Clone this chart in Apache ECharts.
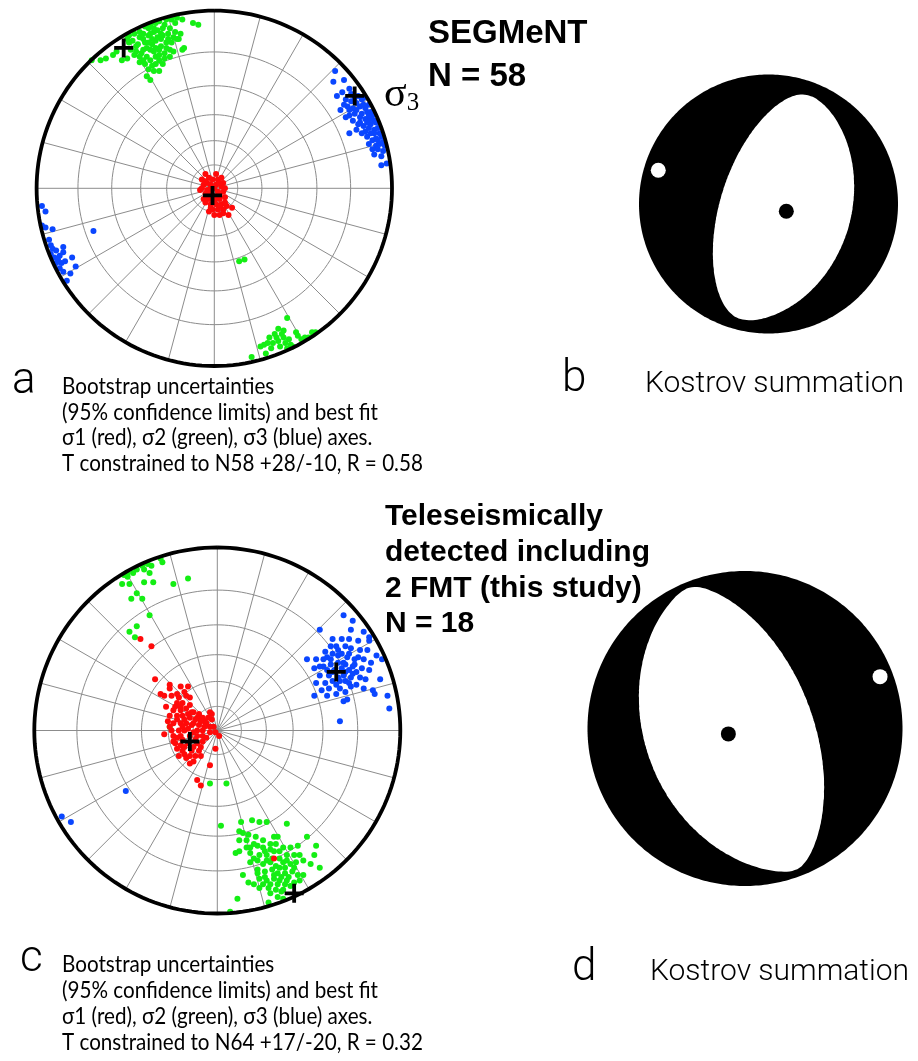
<!DOCTYPE html>
<html>
<head>
<meta charset="utf-8">
<script src="https://cdn.jsdelivr.net/npm/echarts@6/dist/echarts.min.js"></script>
<style>
  html, body { margin: 0; padding: 0; background: #fff; }
  #main { width: 918px; height: 1061px; }
</style>
</head>
<body>
<div id="main"></div>
<script>
(function(){
  'use strict';

  // stereonet grid: small circles every 15 deg, spokes every 15 deg (equal-angle net)
  var ringColat = [15, 30, 45, 60, 75];
  var spokeStep = 15;

  // panel a: bootstrap axes, net coordinates (unit = net radius, x east, y north)
  var aSigma1 = [[-0.05,0.08],[0.01,0.08],[-0.07,0.05],[-0.03,0.06],[-0.01,0.05],[0.02,0.05],[0.05,0.03],[-0.06,0.02],[-0.02,0.02],[0.01,0.02],[0.04,0.01],[-0.04,-0.01],[-0.02,0.00],[-0.05,-0.03],[-0.02,-0.03],[0.02,-0.02],[0.05,-0.02],[-0.06,-0.06],[-0.03,-0.06],[0.00,-0.07],[0.03,-0.06],[0.06,-0.05],[-0.05,-0.08],[-0.02,-0.09],[0.01,-0.09],[0.04,-0.09],[0.07,-0.10],[0.10,-0.11],[-0.01,-0.12],[0.02,-0.12],[0.00,-0.15],[0.03,-0.15],[0.08,-0.15],[-0.02,-0.11],[0.05,-0.12],[-0.08,-0.01],[0.06,-0.08],[-0.04,0.03],[0.03,0.03],[0.00,0.00],[0.03,-0.04],[-0.01,-0.04],[-0.04,-0.05],[0.01,-0.05],[-0.07,0.00],[0.06,0.00],[0.04,0.06],[-0.03,-0.13],[0.03,-0.10],[0.05,-0.14],[-0.05,0.04]];
  var aSigma2 = [[-0.69,0.72],[-0.64,0.72],[-0.61,0.73],[-0.57,0.75],[-0.55,0.77],[-0.52,0.72],[-0.49,0.73],[-0.48,0.86],[-0.45,0.87],[-0.42,0.85],[-0.39,0.91],[-0.36,0.92],[-0.33,0.93],[-0.31,0.94],[-0.27,0.95],[-0.24,0.95],[-0.21,0.96],[-0.18,0.95],[-0.22,0.93],[-0.12,0.93],[-0.09,0.92],[-0.46,0.83],[-0.43,0.81],[-0.40,0.84],[-0.37,0.86],[-0.34,0.88],[-0.32,0.89],[-0.29,0.90],[-0.26,0.87],[-0.23,0.85],[-0.20,0.84],[-0.18,0.78],[-0.17,0.79],[-0.44,0.77],[-0.41,0.76],[-0.38,0.79],[-0.35,0.81],[-0.33,0.83],[-0.30,0.84],[-0.27,0.82],[-0.24,0.82],[-0.21,0.84],[-0.42,0.71],[-0.39,0.70],[-0.36,0.72],[-0.33,0.74],[-0.31,0.75],[-0.28,0.76],[-0.25,0.74],[-0.37,0.67],[-0.34,0.66],[-0.31,0.66],[-0.36,0.61],[-0.48,0.82],[-0.49,0.84],[-0.38,0.74],[-0.33,0.70],[-0.29,0.70],[-0.27,0.79],[-0.30,0.80],[-0.34,0.77],[-0.40,0.87],[-0.37,0.90],[-0.44,0.80],[-0.32,0.85],[-0.35,0.84],[-0.25,0.78],[-0.23,0.77],
    [-0.36,0.78],[-0.31,0.78],[-0.28,0.73],[-0.40,0.78],[-0.42,0.74],[-0.45,0.75],[-0.47,0.78],[-0.39,0.82],[-0.36,0.87],[-0.30,0.87],[-0.28,0.92],[-0.34,0.90],[-0.42,0.88],[-0.25,0.90],[-0.22,0.88],[-0.19,0.87],[-0.26,0.84],[-0.29,0.86],[-0.37,0.82],[-0.33,0.79],[-0.40,0.72],[-0.35,0.69],[-0.31,0.72],[-0.38,0.63],
    [0.41,-0.73],[0.36,-0.79],[0.39,-0.80],[0.34,-0.82],[0.38,-0.82],[0.31,-0.84],[0.35,-0.84],[0.39,-0.84],[0.42,-0.85],[0.46,-0.81],[0.47,-0.83],[0.33,-0.87],[0.36,-0.86],[0.40,-0.87],[0.43,-0.88],[0.28,-0.88],[0.30,-0.87],[0.29,-0.93],[0.26,-0.89],[0.21,-0.95],[0.51,-0.84],[0.55,-0.81],[0.57,-0.81],[0.53,-0.84],[0.44,-0.89],[0.37,-0.89],[0.41,-0.90],[0.32,-0.90],[0.49,-0.85],
    [0.14,-0.41],[0.17,-0.40]];
  var aSigma3 = [[0.68,0.66],[0.73,0.61],[0.67,0.60],[0.72,0.54],[0.69,0.52],[0.76,0.56],[0.74,0.50],[0.71,0.44],[0.75,0.46],[0.77,0.49],[0.80,0.48],[0.83,0.50],[0.84,0.51],[0.87,0.47],[0.82,0.46],[0.85,0.45],[0.88,0.43],[0.89,0.41],[0.90,0.38],[0.76,0.41],[0.79,0.42],[0.82,0.40],[0.85,0.39],[0.88,0.39],[0.91,0.37],[0.78,0.38],[0.81,0.36],[0.84,0.35],[0.87,0.34],[0.90,0.33],[0.92,0.34],[0.76,0.31],[0.83,0.31],[0.86,0.29],[0.89,0.27],[0.91,0.28],[0.94,0.29],[0.87,0.25],[0.91,0.24],[0.96,0.24],[0.90,0.19],[0.94,0.18],[0.94,0.13],[0.97,0.14],[0.74,0.40],[0.87,0.41],[0.80,0.33],[0.93,0.31],[0.90,0.31],[0.92,0.22],[0.95,0.21],
    [0.86,0.43],[0.83,0.42],[0.80,0.44],[0.84,0.47],[0.78,0.45],[0.88,0.36],[0.86,0.37],[0.82,0.37],[0.85,0.32],[0.88,0.31],[0.89,0.22],[0.93,0.25],[0.81,0.52],[0.79,0.51],[0.77,0.53],[0.73,0.47],[0.76,0.44],[0.92,0.27],[0.95,0.26],
    [-0.97,-0.10],[-0.95,-0.13],[-0.97,-0.21],[-0.95,-0.22],[-0.91,-0.23],[-0.93,-0.29],[-0.92,-0.32],[-0.91,-0.34],[-0.89,-0.35],[-0.92,-0.37],[-0.90,-0.39],[-0.87,-0.38],[-0.85,-0.33],[-0.85,-0.36],[-0.88,-0.40],[-0.86,-0.42],[-0.84,-0.41],[-0.80,-0.39],[-0.78,-0.44],[-0.87,-0.45],[-0.85,-0.47],[-0.83,-0.52],[-0.81,-0.48],[-0.89,-0.42],[-0.68,-0.24]];
  var aBest = [[-0.01,-0.04],[-0.51,0.79],[0.79,0.52]];

  // panel c
  var cSigma1 = [[-0.34,0.28],[-0.26,0.25],[-0.26,0.23],[-0.20,0.24],[-0.16,0.24],[-0.31,0.20],[-0.29,0.19],[-0.25,0.19],[-0.21,0.18],[-0.17,0.19],[-0.15,0.18],[-0.22,0.15],[-0.19,0.15],[-0.15,0.14],[-0.28,0.13],[-0.24,0.11],[-0.20,0.11],[-0.17,0.12],[-0.13,0.10],[-0.10,0.09],[-0.04,0.10],[-0.03,0.09],[-0.26,0.08],[-0.22,0.08],[-0.19,0.08],[-0.15,0.07],[-0.11,0.07],[-0.08,0.07],[-0.03,0.06],[-0.24,0.04],[-0.20,0.04],[-0.17,0.04],[-0.13,0.04],[-0.10,0.03],[-0.06,0.04],[-0.02,0.02],[-0.25,0.00],[-0.21,0.00],[-0.18,0.00],[-0.11,0.00],[-0.08,0.00],[-0.04,-0.01],[-0.01,-0.01],[-0.29,-0.02],[-0.24,-0.03],[-0.20,-0.03],[-0.11,-0.03],[-0.08,-0.03],[0.01,-0.03],[-0.23,-0.07],[-0.20,-0.08],[-0.11,-0.07],[-0.08,-0.06],[-0.22,-0.10],[-0.19,-0.11],[-0.14,-0.11],[-0.10,-0.11],[-0.21,-0.14],[-0.17,-0.15],[-0.12,-0.14],[-0.09,-0.14],[-0.15,-0.18],[-0.13,-0.17],[-0.01,-0.10],[-0.04,-0.19],[-0.11,-0.27],[-0.09,-0.30],[-0.42,0.50],[-0.36,0.46],[-0.22,-0.04],[-0.18,-0.09],[-0.26,0.02],[-0.14,0.03],[-0.06,-0.04],[-0.04,0.02],[0.31,-0.70],[-0.15,-0.03],[-0.16,-0.07],[-0.13,-0.09],[-0.18,0.06],[-0.14,0.10],[-0.23,0.13],[-0.07,0.05],
    [-0.19,0.02],[-0.16,0.01],[-0.13,-0.01],[-0.22,0.06],[-0.16,0.09],[-0.20,0.13],[-0.18,-0.13],[-0.15,-0.14],[-0.12,0.06],[-0.09,0.05],[-0.07,0.02],[-0.24,-0.06],[-0.19,-0.05],[-0.27,0.05],[-0.22,0.20],[-0.18,0.21],[-0.12,-0.05],[-0.05,0.07],[-0.09,-0.09]];
  var cSigma2 = [[-0.49,0.86],[-0.51,0.85],[-0.49,0.84],[-0.46,0.86],[-0.44,0.88],[-0.41,0.90],[-0.38,0.91],[-0.40,0.88],[-0.36,0.90],[-0.37,0.86],[-0.35,0.81],[-0.40,0.81],[-0.31,0.94],[-0.30,0.92],[-0.48,0.80],[-0.44,0.75],[-0.41,0.72],[-0.47,0.72],[-0.37,0.63],[-0.48,0.54],[-0.44,0.57],[-0.45,0.51],[-0.24,0.80],[-0.16,0.83],[-0.52,0.80],
    [-0.04,-0.29],[0.05,-0.29],[-0.26,0.02],
    [0.02,-0.52],[0.13,-0.50],[0.19,-0.49],[0.23,-0.50],[0.27,-0.50],[0.38,-0.51],[0.12,-0.55],[0.14,-0.56],[0.17,-0.57],[0.21,-0.58],[0.25,-0.60],[0.31,-0.58],[0.33,-0.58],[0.12,-0.60],[0.16,-0.60],[0.18,-0.64],[0.22,-0.63],[0.25,-0.64],[0.29,-0.62],[0.32,-0.62],[0.36,-0.64],[0.40,-0.64],[0.44,-0.63],[0.49,-0.58],[0.54,-0.63],[0.10,-0.67],[0.12,-0.66],[0.18,-0.67],[0.23,-0.68],[0.27,-0.68],[0.31,-0.66],[0.34,-0.66],[0.38,-0.68],[0.42,-0.68],[0.45,-0.68],[0.53,-0.68],[0.18,-0.72],[0.22,-0.71],[0.25,-0.73],[0.29,-0.72],[0.32,-0.74],[0.36,-0.72],[0.40,-0.73],[0.43,-0.72],[0.51,-0.73],[0.56,-0.75],[0.22,-0.76],[0.26,-0.77],[0.30,-0.76],[0.33,-0.78],[0.37,-0.78],[0.41,-0.77],[0.44,-0.79],[0.47,-0.79],[0.17,-0.83],[0.23,-0.81],[0.27,-0.82],[0.31,-0.81],[0.34,-0.82],[0.38,-0.82],[0.42,-0.83],[0.45,-0.82],[0.23,-0.86],[0.28,-0.86],[0.32,-0.87],[0.36,-0.87],[0.40,-0.85],[0.29,-0.89],[0.33,-0.91],[0.36,-0.92],[0.11,-0.92],[0.28,-0.94],[0.07,-0.99],[0.14,-0.79],[0.20,-0.84],
    [0.26,-0.66],[0.29,-0.65],[0.34,-0.70],[0.30,-0.70],[0.27,-0.71],[0.34,-0.75],[0.37,-0.75],[0.38,-0.71],[0.31,-0.79],[0.35,-0.80],[0.39,-0.80],[0.26,-0.80],[0.29,-0.84],[0.33,-0.84],[0.37,-0.84],[0.25,-0.84],[0.20,-0.70],[0.20,-0.62],[0.16,-0.64],[0.42,-0.75],[0.47,-0.71],[0.22,-0.78],[0.35,-0.88]];
  var cSigma3 = [[0.69,0.63],[0.74,0.60],[0.56,0.55],[0.73,0.55],[0.80,0.54],[0.83,0.51],[0.63,0.50],[0.68,0.50],[0.72,0.50],[0.77,0.49],[0.83,0.49],[0.62,0.46],[0.65,0.46],[0.70,0.46],[0.73,0.45],[0.78,0.44],[0.82,0.44],[0.87,0.41],[0.90,0.39],[0.84,0.37],[0.49,0.39],[0.54,0.39],[0.59,0.43],[0.63,0.42],[0.66,0.41],[0.71,0.40],[0.75,0.39],[0.80,0.39],[0.53,0.34],[0.58,0.35],[0.62,0.36],[0.70,0.36],[0.74,0.35],[0.79,0.34],[0.83,0.33],[0.56,0.30],[0.61,0.30],[0.69,0.30],[0.73,0.29],[0.78,0.29],[0.89,0.28],[0.54,0.26],[0.59,0.26],[0.63,0.27],[0.67,0.27],[0.72,0.26],[0.76,0.25],[0.80,0.23],[0.85,0.22],[0.53,0.19],[0.60,0.19],[0.65,0.20],[0.70,0.21],[0.69,0.16],[0.71,0.17],[0.86,0.20],[0.93,0.19],[0.94,0.12],[0.67,0.05],[0.64,0.33],[0.66,0.29],[0.63,0.32],[0.69,0.37],[0.73,0.24],[0.57,0.22],[0.58,0.39],
    [0.62,0.39],[0.66,0.37],[0.68,0.34],[0.72,0.33],[0.76,0.32],[0.60,0.33],[0.65,0.25],[0.70,0.27],[0.75,0.36],[0.68,0.42],[0.72,0.42],[0.77,0.40],[0.61,0.23],[0.67,0.23],[0.56,0.35],[0.60,0.40],[0.81,0.28],[0.66,0.44],[0.74,0.31],[0.70,0.32],
    [-0.50,-0.33],[-0.85,-0.47],[-0.80,-0.50]];
  var cBest = [[-0.15,-0.06],[0.42,-0.89],[0.65,0.32]];

  // Kostrov summed tensors: [trend, plunge] of T and P, eigenvalues [T, B, P]
  var bTAxis = [287, 12], bPAxis = [112, 78], bEigen = [1, 0.031, -0.81];
  var dTAxis = [69, 9],   dPAxis = [252, 81], dEigen = [1, 0.0073, -0.953];

  var captionA = ['Bootstrap uncertainties', '(95% confidence limits) and best fit',
                  '\u03c31 (red), \u03c32 (green), \u03c33 (blue) axes.', 'T constrained to N58 +28/-10, R = 0.58'];
  var captionC = ['Bootstrap uncertainties', '(95% confidence limits) and best fit',
                  '\u03c31 (red), \u03c32 (green), \u03c33 (blue) axes.', 'T constrained to N64 +17/-20, R = 0.32'];

  var D = Math.PI / 180;

  function stereo(colat, az){
    var r = Math.tan(colat * D / 2);
    return [r * Math.sin(az * D), r * Math.cos(az * D)];
  }

  function netGrid(){
    var out = [], az, k;
    ringColat.forEach(function(c){
      var pts = [];
      for (az = 0; az <= 360; az += 2) pts.push(stereo(c, az));
      out.push({coords: pts});
    });
    for (k = 0; k < 360; k += spokeStep) out.push({coords: [[0, 0], stereo(90, k)]});
    return out;
  }
  function primitive(){
    var pts = [];
    for (var az = 0; az <= 360; az += 2) pts.push(stereo(90, az));
    return [{coords: pts}];
  }

  // vectors: x east, y north, z down
  function vec(tp){
    var t = tp[0] * D, p = tp[1] * D;
    return [Math.sin(t) * Math.cos(p), Math.cos(t) * Math.cos(p), Math.sin(p)];
  }
  function dot(a, b){ return a[0]*b[0] + a[1]*b[1] + a[2]*b[2]; }
  function cross(a, b){ return [a[1]*b[2]-a[2]*b[1], a[2]*b[0]-a[0]*b[2], a[0]*b[1]-a[1]*b[0]]; }
  function norm(a){ var l = Math.sqrt(dot(a, a)); return [a[0]/l, a[1]/l, a[2]/l]; }
  // lower hemisphere, equal area
  function proj(n){
    if (n[2] < 0) n = [-n[0], -n[1], -n[2]];
    var th = Math.acos(Math.min(1, n[2])), r = Math.SQRT2 * Math.sin(th / 2);
    var h = Math.sqrt(n[0]*n[0] + n[1]*n[1]);
    return h < 1e-9 ? [0, 0] : [r * n[0] / h, r * n[1] / h];
  }
  function unproj(x, y){
    var r = Math.sqrt(x*x + y*y);
    if (r < 1e-9) return [0, 0, 1];
    var th = 2 * Math.asin(Math.min(1, r / Math.SQRT2)), s = Math.sin(th);
    return [s * x / r, s * y / r, Math.cos(th)];
  }

  function beachball(tAxis, pAxis, eig){
    var t = vec(tAxis), b = norm(cross(t, vec(pAxis))), p = norm(cross(b, t));
    function amp(n){ var a = dot(n, t), bb = dot(n, b), c = dot(n, p); return eig[0]*a*a + eig[1]*bb*bb + eig[2]*c*c; }
    var c0 = proj(p), white = [], disc = [], k, s;
    for (k = 0; k < 360; k++){
      var ca = Math.cos(k * D), sa = Math.sin(k * D);
      for (s = 0; s < 2.2; s += 0.002){
        var qx = c0[0] + s * ca, qy = c0[1] + s * sa, r = Math.sqrt(qx*qx + qy*qy);
        if (r >= 1){ white.push([qx / r, qy / r]); break; }
        if (amp(unproj(qx, qy)) >= 0){ white.push([qx, qy]); break; }
      }
    }
    for (k = 0; k < 360; k++) disc.push([Math.sin(k * D), Math.cos(k * D)]);
    return {disc: disc, white: white, tDot: proj(t), pDot: proj(p)};
  }

  var bb1 = beachball(bTAxis, bPAxis, bEigen);
  var bb2 = beachball(dTAxis, dPAxis, dEigen);

  // layout: [a, c, b, d]
  function box(cx, cy, r){ return {left: cx - r, top: cy - r, width: 2 * r, height: 2 * r}; }
  var grids = [box(214.3, 188.3, 177.7), box(217.3, 730.5, 183), box(768.5, 204, 129.5), box(745, 728.5, 157.5)];

  var plus = 'path://M4,0H6V4H10V6H6V10H4V6H0V4H4Z';
  var series = [];

  function addNet(g, s1, s2, s3, best){
    series.push({type: 'lines', coordinateSystem: 'cartesian2d', xAxisIndex: g, yAxisIndex: g, polyline: true,
      silent: true, clip: false, data: netGrid(), lineStyle: {color: '#8c8c8c', width: 1, opacity: 1}, z: 1});
    [[s2, '#14ee14'], [s3, '#0a46ff'], [s1, '#ff0a0a']].forEach(function(d){
      series.push({type: 'scatter', xAxisIndex: g, yAxisIndex: g, data: d[0], symbolSize: 6, clip: false,
        itemStyle: {color: d[1], opacity: 1}, z: 2});
    });
    series.push({type: 'lines', coordinateSystem: 'cartesian2d', xAxisIndex: g, yAxisIndex: g, polyline: true,
      silent: true, clip: false, data: primitive(), lineStyle: {color: '#000', width: 3.8, opacity: 1}, z: 3});
    series.push({type: 'scatter', xAxisIndex: g, yAxisIndex: g, data: best, symbol: plus, symbolSize: 19, clip: false,
      itemStyle: {color: '#000', opacity: 1}, z: 4});
  }

  function addBall(g, ball){
    series.push({type: 'custom', coordinateSystem: 'cartesian2d', xAxisIndex: g, yAxisIndex: g, data: [[0, 0]], clip: false,
      renderItem: function(params, api){
        return {type: 'group', children: [
          {type: 'polygon', shape: {points: ball.disc.map(function(p){ return api.coord(p); })}, style: {fill: '#000'}},
          {type: 'polygon', shape: {points: ball.white.map(function(p){ return api.coord(p); })}, style: {fill: '#fff'}}
        ]};
      }, z: 1});
    series.push({type: 'scatter', xAxisIndex: g, yAxisIndex: g, data: [ball.pDot], symbolSize: 15, clip: false,
      itemStyle: {color: '#000', opacity: 1}, z: 3});
    series.push({type: 'scatter', xAxisIndex: g, yAxisIndex: g, data: [ball.tDot], symbolSize: 15, clip: false,
      itemStyle: {color: '#fff', opacity: 1}, z: 3});
  }

  addNet(0, aSigma1, aSigma2, aSigma3, aBest);
  addNet(1, cSigma1, cSigma2, cSigma3, cBest);
  addBall(2, bb1);
  addBall(3, bb2);

  // text helpers (y = baseline)
  function txt(x, base, text, size, family, weight, sx){
    return {type: 'text', x: x, y: base - 0.33 * size, scaleX: sx || 1, silent: true,
      style: {text: text, font: (weight || 'normal') + ' ' + size + 'px ' + family, fill: '#000', verticalAlign: 'middle', align: 'left'}};
  }
  var graphic = [];
  var HB = '"Liberation Sans", Arial, sans-serif';
  var CAP = 'Lato, "Open Sans", sans-serif';
  var LIGHT = 'Roboto, "Open Sans", sans-serif';
  graphic.push(txt(428, 45, 'SEGMeNT', 33, HB, 'bold'));
  graphic.push(txt(428, 88, 'N = 58', 33, HB, 'bold'));
  ['Teleseismically', 'detected including', '2 FMT (this study)', 'N = 18'].forEach(function(s, i){
    graphic.push(txt(385, 527 + i * 35.7, s, 30, HB, 'bold'));
  });
  captionA.forEach(function(s, i){ graphic.push(txt(62, 394 + i * 25.7, s, 24, CAP, 'normal', 0.86)); });
  captionC.forEach(function(s, i){ graphic.push(txt(62, 972 + i * 26, s, 24, CAP, 'normal', 0.86)); });
  graphic.push(txt(12, 397, 'a', 44, LIGHT, '300'));
  graphic.push(txt(20, 975, 'c', 44, LIGHT, '300'));
  graphic.push(txt(562, 395, 'b', 44, LIGHT, '300'));
  graphic.push(txt(572, 984, 'd', 44, LIGHT, '300'));
  graphic.push(txt(645, 394, 'Kostrov summation', 30, LIGHT, '300'));
  graphic.push(txt(650, 982, 'Kostrov summation', 30, LIGHT, '300'));
  graphic.push({type: 'text', x: 384, y: 116, silent: true,
    style: {text: '{s|\u03c3}{n|3}', verticalAlign: 'bottom', align: 'left',
      rich: {s: {font: '42px "Liberation Serif", serif', fill: '#000', verticalAlign: 'bottom'},
             n: {font: '25px "Liberation Serif", serif', fill: '#000', verticalAlign: 'bottom'}}}});

  var xAxis = [], yAxis = [];
  grids.forEach(function(g, i){
    xAxis.push({type: 'value', gridIndex: i, min: -1, max: 1, show: false});
    yAxis.push({type: 'value', gridIndex: i, min: -1, max: 1, show: false});
  });

  var chart = echarts.init(document.getElementById('main'), null, {renderer: 'canvas'});
  chart.setOption({
    animation: false,
    backgroundColor: '#fff',
    grid: grids,
    xAxis: xAxis,
    yAxis: yAxis,
    graphic: graphic,
    series: series
  });
}());
</script>
</body>
</html>
